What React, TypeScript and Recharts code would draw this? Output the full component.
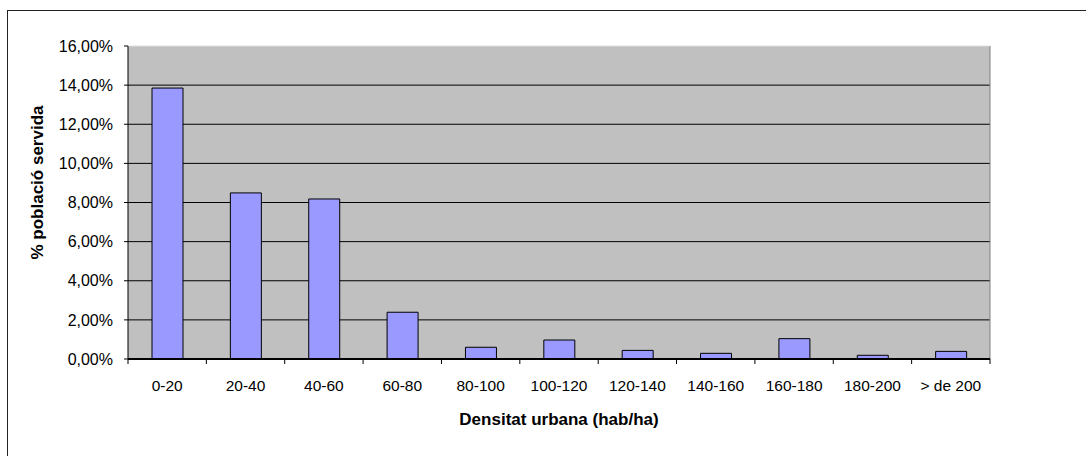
import {
  BarChart,
  Bar,
  XAxis,
  YAxis,
  CartesianGrid,
  ReferenceLine
} from "recharts"

const categories = ["0-20", "20-40", "40-60", "60-80", "80-100", "100-120", "120-140", "140-160", "160-180", "180-200", "> de 200"]
const poblacio = [13.85, 8.49, 8.18, 2.39, 0.6, 0.97, 0.44, 0.29, 1.04, 0.19, 0.39]
const yTicks = [0, 2, 4, 6, 8, 10, 12, 14, 16]
const gridTicks = [2, 4, 6, 8, 10, 12, 14]
const boundaryTicks = [0, 1, 2, 3, 4, 5, 6, 7, 8, 9, 10, 11]

const data = categories.map((c, i) => ({ densitat: c, valor: poblacio[i], pos: i + 0.5 }))

const font = "'Liberation Sans', Arial, sans-serif"
const pct = (v: number) => v.toFixed(2).replace(".", ",") + "%"

export default function App() {
  return (
    <>
      <div
        style={{
          position: "fixed",
          left: 7,
          top: 10,
          width: 1100,
          height: 470,
          border: "1px solid #222",
          background: "#fff"
        }}
      />
      <div style={{ position: "fixed", left: 0, top: 0 }}>
        <BarChart
          width={1086}
          height={456}
          data={data}
          margin={{ top: 46, right: 96, bottom: 0, left: 0 }}
          barSize={31}
        >
          <CartesianGrid
            xAxisId="b"
            fill="#C0C0C0"
            vertical={false}
            stroke="#000"
            horizontalValues={gridTicks}
          />
          <XAxis
            xAxisId="a"
            type="number"
            dataKey="pos"
            domain={[0, 11]}
            ticks={boundaryTicks}
            allowDataOverflow
            height={1}
            tickFormatter={() => ""}
            tickSize={5}
            axisLine={{ stroke: "#000", strokeWidth: 2 }}
            tickLine={{ stroke: "#000" }}
          />
          <XAxis
            xAxisId="b"
            dataKey="densitat"
            height={96}
            axisLine={false}
            tickLine={false}
            tickSize={0}
            tickMargin={20}
            interval={0}
            tick={{ fontSize: 15.5, fill: "#000", fontFamily: font }}
            label={{
              value: "Densitat urbana (hab/ha)",
              position: "insideBottom",
              offset: 31,
              style: { fontSize: 17, fontWeight: "bold", fill: "#000", fontFamily: font }
            }}
          />
          <YAxis
            width={128}
            domain={[0, 16]}
            ticks={yTicks}
            tickFormatter={pct}
            tickSize={4}
            tickMargin={11}
            interval={0}
            axisLine={{ stroke: "#000" }}
            tickLine={{ stroke: "#000" }}
            tick={{ fontSize: 16, fill: "#000", fontFamily: font }}
            label={{
              value: "% població servida",
              angle: -90,
              position: "insideLeft",
              offset: 37,
              dy: -20,
              style: { fontSize: 17, fontWeight: "bold", fill: "#000", fontFamily: font, textAnchor: "middle" }
            }}
          />
          <ReferenceLine xAxisId="a" y={16} stroke="#E0E0E0" />
          <ReferenceLine xAxisId="a" x={11} stroke="#808080" />
          <Bar
            xAxisId="b"
            dataKey="valor"
            fill="#9999FF"
            stroke="#000"
            strokeWidth={1}
            isAnimationActive={false}
          />
        </BarChart>
      </div>
    </>
  )
}
